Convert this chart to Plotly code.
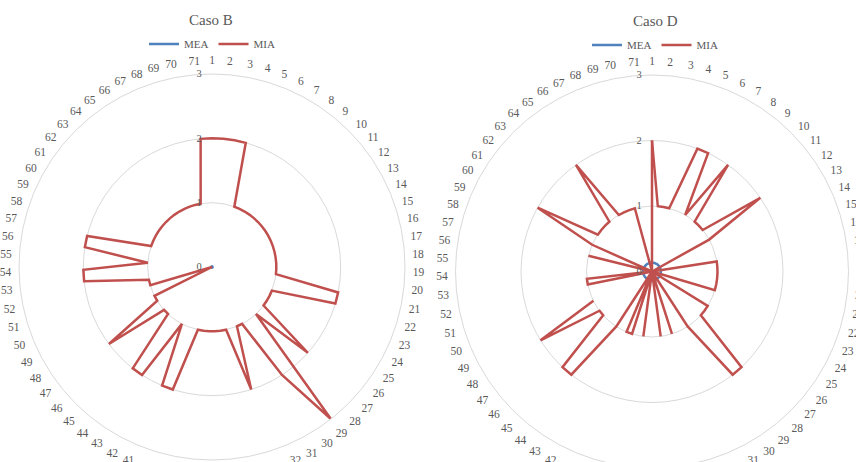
import plotly.graph_objects as go

categories = [str(i) for i in range(1, 72)]

caso_b_mea = [0.01] * 71
caso_b_mia = [2, 2, 2, 2, 1, 1, 1, 1, 1, 1,
              1, 1, 1, 1, 1, 1, 1, 1, 1, 1,
              2, 2, 1, 1, 1, 1, 2, 1, 3, 2,
              1, 1, 2, 1, 1, 1, 1, 1, 1, 2,
              2, 1, 2, 2, 1, 1, 2, 1, 1, 0,
              1, 1, 2, 2, 1, 2, 2, 1, 1, 1,
              1, 1, 1, 1, 1, 1, 1, 1, 1, 1,
              2]

caso_d_mea = [0.135] * 71
caso_d_mia = [2, 1, 1, 1, 2, 2, 1, 2, 1, 1,
              1, 2, 1, 0, 0, 0, 1, 1, 1, 1,
              1, 1, 0, 0, 1, 1, 1, 2, 2, 1,
              0, 0, 1, 0, 1, 0, 0, 1, 0, 1,
              1, 0, 1, 2, 2, 1, 1, 2, 1, None,
              0, 1, 1, 0, 0, 0, 1, 0, 1, 2,
              1, 1, 1, 1, 2, 1, 1, 1, 1, 0,
              0]

radial_ticks = [0, 1, 2, 3]
titles = ["Caso B", "Caso D"]
series_names = ["MEA", "MIA"]

MEA_COLOR = "#4F81BD"
MIA_COLOR = "#C0504D"
TXT = "#595959"
GRID = "#D9D9D9"
FONT = "Liberation Serif"

W, H = 856, 520


def closed(vals):
    return list(vals) + [vals[0]]


theta_closed = categories + [categories[0]]

fig = go.Figure()
data_sets = [(caso_b_mea, caso_b_mia, "polar", "legend"),
             (caso_d_mea, caso_d_mia, "polar2", "legend2")]
for mea, mia, sp, lg in data_sets:
    fig.add_trace(go.Scatterpolar(r=closed(mea), theta=theta_closed, mode="lines",
                                  name=series_names[0], subplot=sp, legend=lg,
                                  line=dict(color=MEA_COLOR, width=2.5)))
    fig.add_trace(go.Scatterpolar(r=closed(mia), theta=theta_closed, mode="lines",
                                  name=series_names[1], subplot=sp, legend=lg,
                                  line=dict(color=MIA_COLOR, width=2.5)))


def px_dom(x0, x1, y0, y1):
    return dict(x=[x0 / W, x1 / W], y=[1 - y1 / H, 1 - y0 / H])


def polar_layout(dom):
    return dict(
        domain=dom,
        bgcolor="white",
        angularaxis=dict(type="category", categoryarray=categories,
                         rotation=90, direction="clockwise",
                         showgrid=False, showline=True, linecolor=GRID, linewidth=1,
                         ticks="outside", ticklen=5, tickcolor="rgba(0,0,0,0)",
                         tickfont=dict(family=FONT, size=11.5, color=TXT)),
        radialaxis=dict(range=[0, 3], tickvals=radial_ticks, angle=90, tickangle=90,
                        side="counterclockwise",
                        showline=False, ticks="outside", ticklen=6,
                        tickcolor="rgba(0,0,0,0)", gridcolor=GRID, gridwidth=1,
                        tickfont=dict(family=FONT, size=10.5, color=TXT)),
    )


legend_common = dict(orientation="h", yanchor="middle", xanchor="center",
                     itemwidth=30,
                     font=dict(family=FONT, size=11, color=TXT), bgcolor="rgba(0,0,0,0)")

fig.update_layout(
    width=W, height=H,
    margin=dict(l=0, r=0, t=0, b=0),
    paper_bgcolor="white",
    showlegend=True,
    font=dict(family=FONT, color=TXT),
    polar=polar_layout(px_dom(19, 405, 74, 460)),
    polar2=polar_layout(px_dom(455.5, 848.5, 75, 468)),
    legend=dict(x=212 / W, y=1 - 44 / H, **legend_common),
    legend2=dict(x=655 / W, y=1 - 45 / H, **legend_common),
    annotations=[
        dict(text=titles[0], x=211 / W, y=1 - 20 / H, xref="paper", yref="paper",
             xanchor="center", yanchor="middle",
             showarrow=False, font=dict(family=FONT, size=15, color=TXT)),
        dict(text=titles[1], x=655 / W, y=1 - 21 / H, xref="paper", yref="paper",
             xanchor="center", yanchor="middle",
             showarrow=False, font=dict(family=FONT, size=15, color=TXT)),
    ],
)

fig.write_html("out.html",
               config={"displayModeBar": False},
               post_script="document.body.style.margin='0';"
                           "document.body.style.overflow='hidden';"
                           "document.documentElement.style.overflow='hidden';")
